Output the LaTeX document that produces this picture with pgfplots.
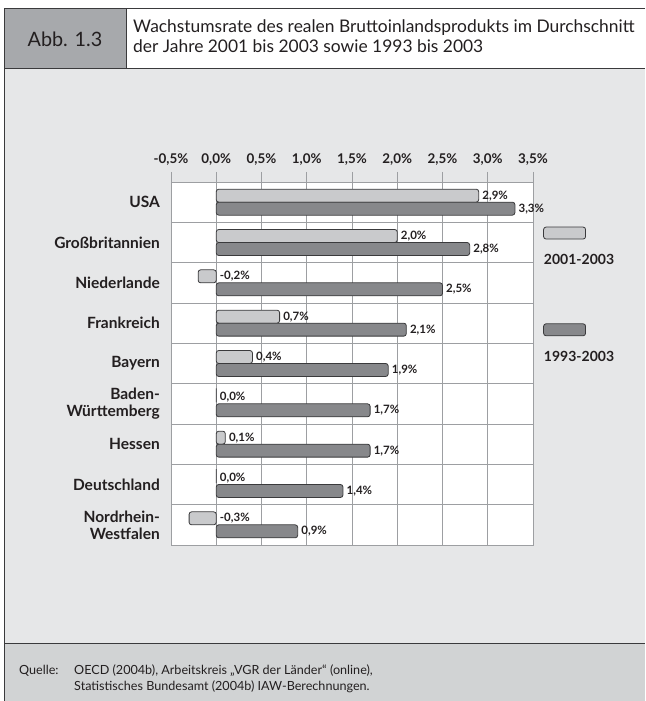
\documentclass[border=0pt]{standalone}
\usepackage{fontspec}
\setmainfont{Lato}
\usepackage{pgfplots}
\pgfplotsset{compat=1.18}

\definecolor{ink}{HTML}{231F20}
\definecolor{panel}{HTML}{E6E7E8}
\definecolor{foot}{HTML}{D1D3D4}
\definecolor{tag}{HTML}{A7A9AC}
\definecolor{gridc}{HTML}{9D9FA2}
\definecolor{barlight}{HTML}{C9CACC}
\definecolor{bardark}{HTML}{87888B}
\definecolor{frame}{HTML}{3A3A3C}

\pgfkeys{/pgf/number format/pct/.style={fixed, fixed zerofill, precision=1, use comma, assume math mode=true}}
\pgfplotsset{
  barlbl/.style={draw=none, forget plot, point meta=explicit,
    nodes near coords={\pgfmathprintnumber[pct]{\pgfplotspointmeta}\%},
    every node near coord/.style={anchor=west, inner sep=3.5pt, text=ink,
      font=\bfseries\fontsize{11.5}{11.5}\selectfont}},
}

\begin{document}
\begin{tikzpicture}
\path[use as bounding box] (0pt,0pt) rectangle (645pt,701pt);
\fill[white] (0pt,0pt) rectangle (645pt,701pt);
% page frame: header strip, chart panel, source strip
\fill[panel] (4pt,58pt) rectangle (645pt,633pt);
\fill[foot] (4pt,0pt) rectangle (645pt,58pt);
\fill[tag] (4pt,633pt) rectangle (126pt,693pt);
\draw[frame, line width=0.8pt] (645pt,693pt) -- (4pt,693pt) -- (4pt,0pt);
\draw[frame, line width=0.8pt] (4pt,633pt) -- (645pt,633pt);
\draw[frame, line width=0.8pt] (126pt,633pt) -- (126pt,693pt);
\draw[frame, line width=0.8pt] (4pt,58pt) -- (645pt,58pt);

\node[text=ink, font=\fontsize{19.8}{19.8}\selectfont] at (65pt,662pt) {Abb. 1.3};
\node[text=ink, anchor=base west, inner sep=0pt, font=\fontsize{17.4}{17.4}\selectfont] at (133pt,668pt)
  {Wachstumsrate des realen Bruttoinlandsprodukts im Durchschnitt};
\node[text=ink, anchor=base west, inner sep=0pt, font=\fontsize{17.4}{17.4}\selectfont] at (133pt,648pt)
  {der Jahre 2001 bis 2003 sowie 1993 bis 2003};

\node[text=ink, anchor=base west, inner sep=0pt, font=\fontsize{12.6}{12.6}\selectfont] at (19pt,27pt) {Quelle:};
\node[text=ink, anchor=base west, inner sep=0pt, font=\fontsize{12.6}{12.6}\selectfont] at (74pt,27pt)
  {OECD (2004b), Arbeitskreis „VGR der Länder“ (online),};
\node[text=ink, anchor=base west, inner sep=0pt, font=\fontsize{12.6}{12.6}\selectfont] at (74pt,10pt)
  {Statistisches Bundesamt (2004b) IAW-Berechnungen.};

\coordinate (plottopleft) at (171pt,519pt);

\begin{axis}[
  at={(plottopleft)}, anchor=north west,
  scale only axis, width=362pt, height=363pt,
  xmin=-0.5, xmax=3.5, ymin=-0.5, ymax=8.5, y dir=reverse,
  axis background/.style={fill=white},
  axis line style={gridc, line width=0.8pt},
  /pgf/number format/assume math mode=true,
  xtick={-0.5,0,0.5,1,1.5,2,2.5,3,3.5},
  xtick pos=upper, xticklabel pos=upper,
  xtick align=outside, major tick length=10pt, minor tick length=0pt,
  xticklabel={\pgfmathprintnumber[pct]{\tick}\%},
  xticklabel style={font=\bfseries\fontsize{13.4}{13.4}\selectfont, text=ink, inner sep=0pt, yshift=6pt},
  xtick style={gridc, line width=0.8pt},
  ytick={0,...,8},
  yticklabels={USA, Großbritannien, Niederlande, Frankreich, Bayern,
    {Baden-\\Württemberg}, Hessen, Deutschland, {Nordrhein-\\Westfalen}},
  yticklabel style={font=\bfseries\fontsize{15.5}{17}\selectfont, text=ink, align=right, inner sep=0pt, xshift=-11pt},
  ytick style={draw=none},
  minor ytick={0.5,1.5,...,7.5},
  xmajorgrids=true, yminorgrids=true,
  grid style={gridc, line width=0.8pt},
  minor grid style={gridc, line width=0.8pt},
  legend style={draw=none, fill=none, inner sep=0pt, row sep=85pt, column sep=0pt,
    at={(1.0276,0.8017)}, anchor=north west,
    nodes={inner sep=0pt, text=ink, font=\bfseries\fontsize{14}{14}\selectfont}},
  legend cell align=left,
]
% 2001-2003
\addplot[xbar, bar width=0.322, bar shift=-0.161, fill=barlight, draw=frame,
  line width=0.8pt, rounded corners=2.5pt,
  legend image code/.code={\draw[overlay, fill=barlight, draw=frame, line width=0.8pt, rounded corners=2.5pt]
    (0pt,21pt) rectangle (42pt,33pt); \path (0pt,0pt);}]
  coordinates {(2.9,0) (2.0,1) (-0.2,2) (0.7,3) (0.4,4) (0.0,5) (0.1,6) (0.0,7) (-0.3,8)};
% 1993-2003
\addplot[xbar, bar width=0.322, bar shift=0.161, fill=bardark, draw=frame,
  line width=0.8pt, rounded corners=2.5pt,
  legend image code/.code={\draw[overlay, fill=bardark, draw=frame, line width=0.8pt, rounded corners=2.5pt]
    (0pt,21pt) rectangle (42pt,33pt); \path (0pt,0pt);}]
  coordinates {(3.3,0) (2.8,1) (2.5,2) (2.1,3) (1.9,4) (1.7,5) (1.7,6) (1.4,7) (0.9,8)};
\legend{2001-2003, 1993-2003}

% value labels, set right of the bar end (or of the zero line for negative values)
\addplot[barlbl] coordinates {
  (2.9,-0.161) [2.9] (2.0,0.839) [2.0] (0,1.839) [-0.2] (0.7,2.839) [0.7] (0.4,3.839) [0.4]
  (0,4.839) [0.0] (0.1,5.839) [0.1] (0,6.839) [0.0] (0,7.839) [-0.3]};
\addplot[barlbl] coordinates {
  (3.3,0.161) [3.3] (2.8,1.161) [2.8] (2.5,2.161) [2.5] (2.1,3.161) [2.1] (1.9,4.161) [1.9]
  (1.7,5.161) [1.7] (1.7,6.161) [1.7] (1.4,7.161) [1.4] (0.9,8.161) [0.9]};
\end{axis}
\end{tikzpicture}
\end{document}
